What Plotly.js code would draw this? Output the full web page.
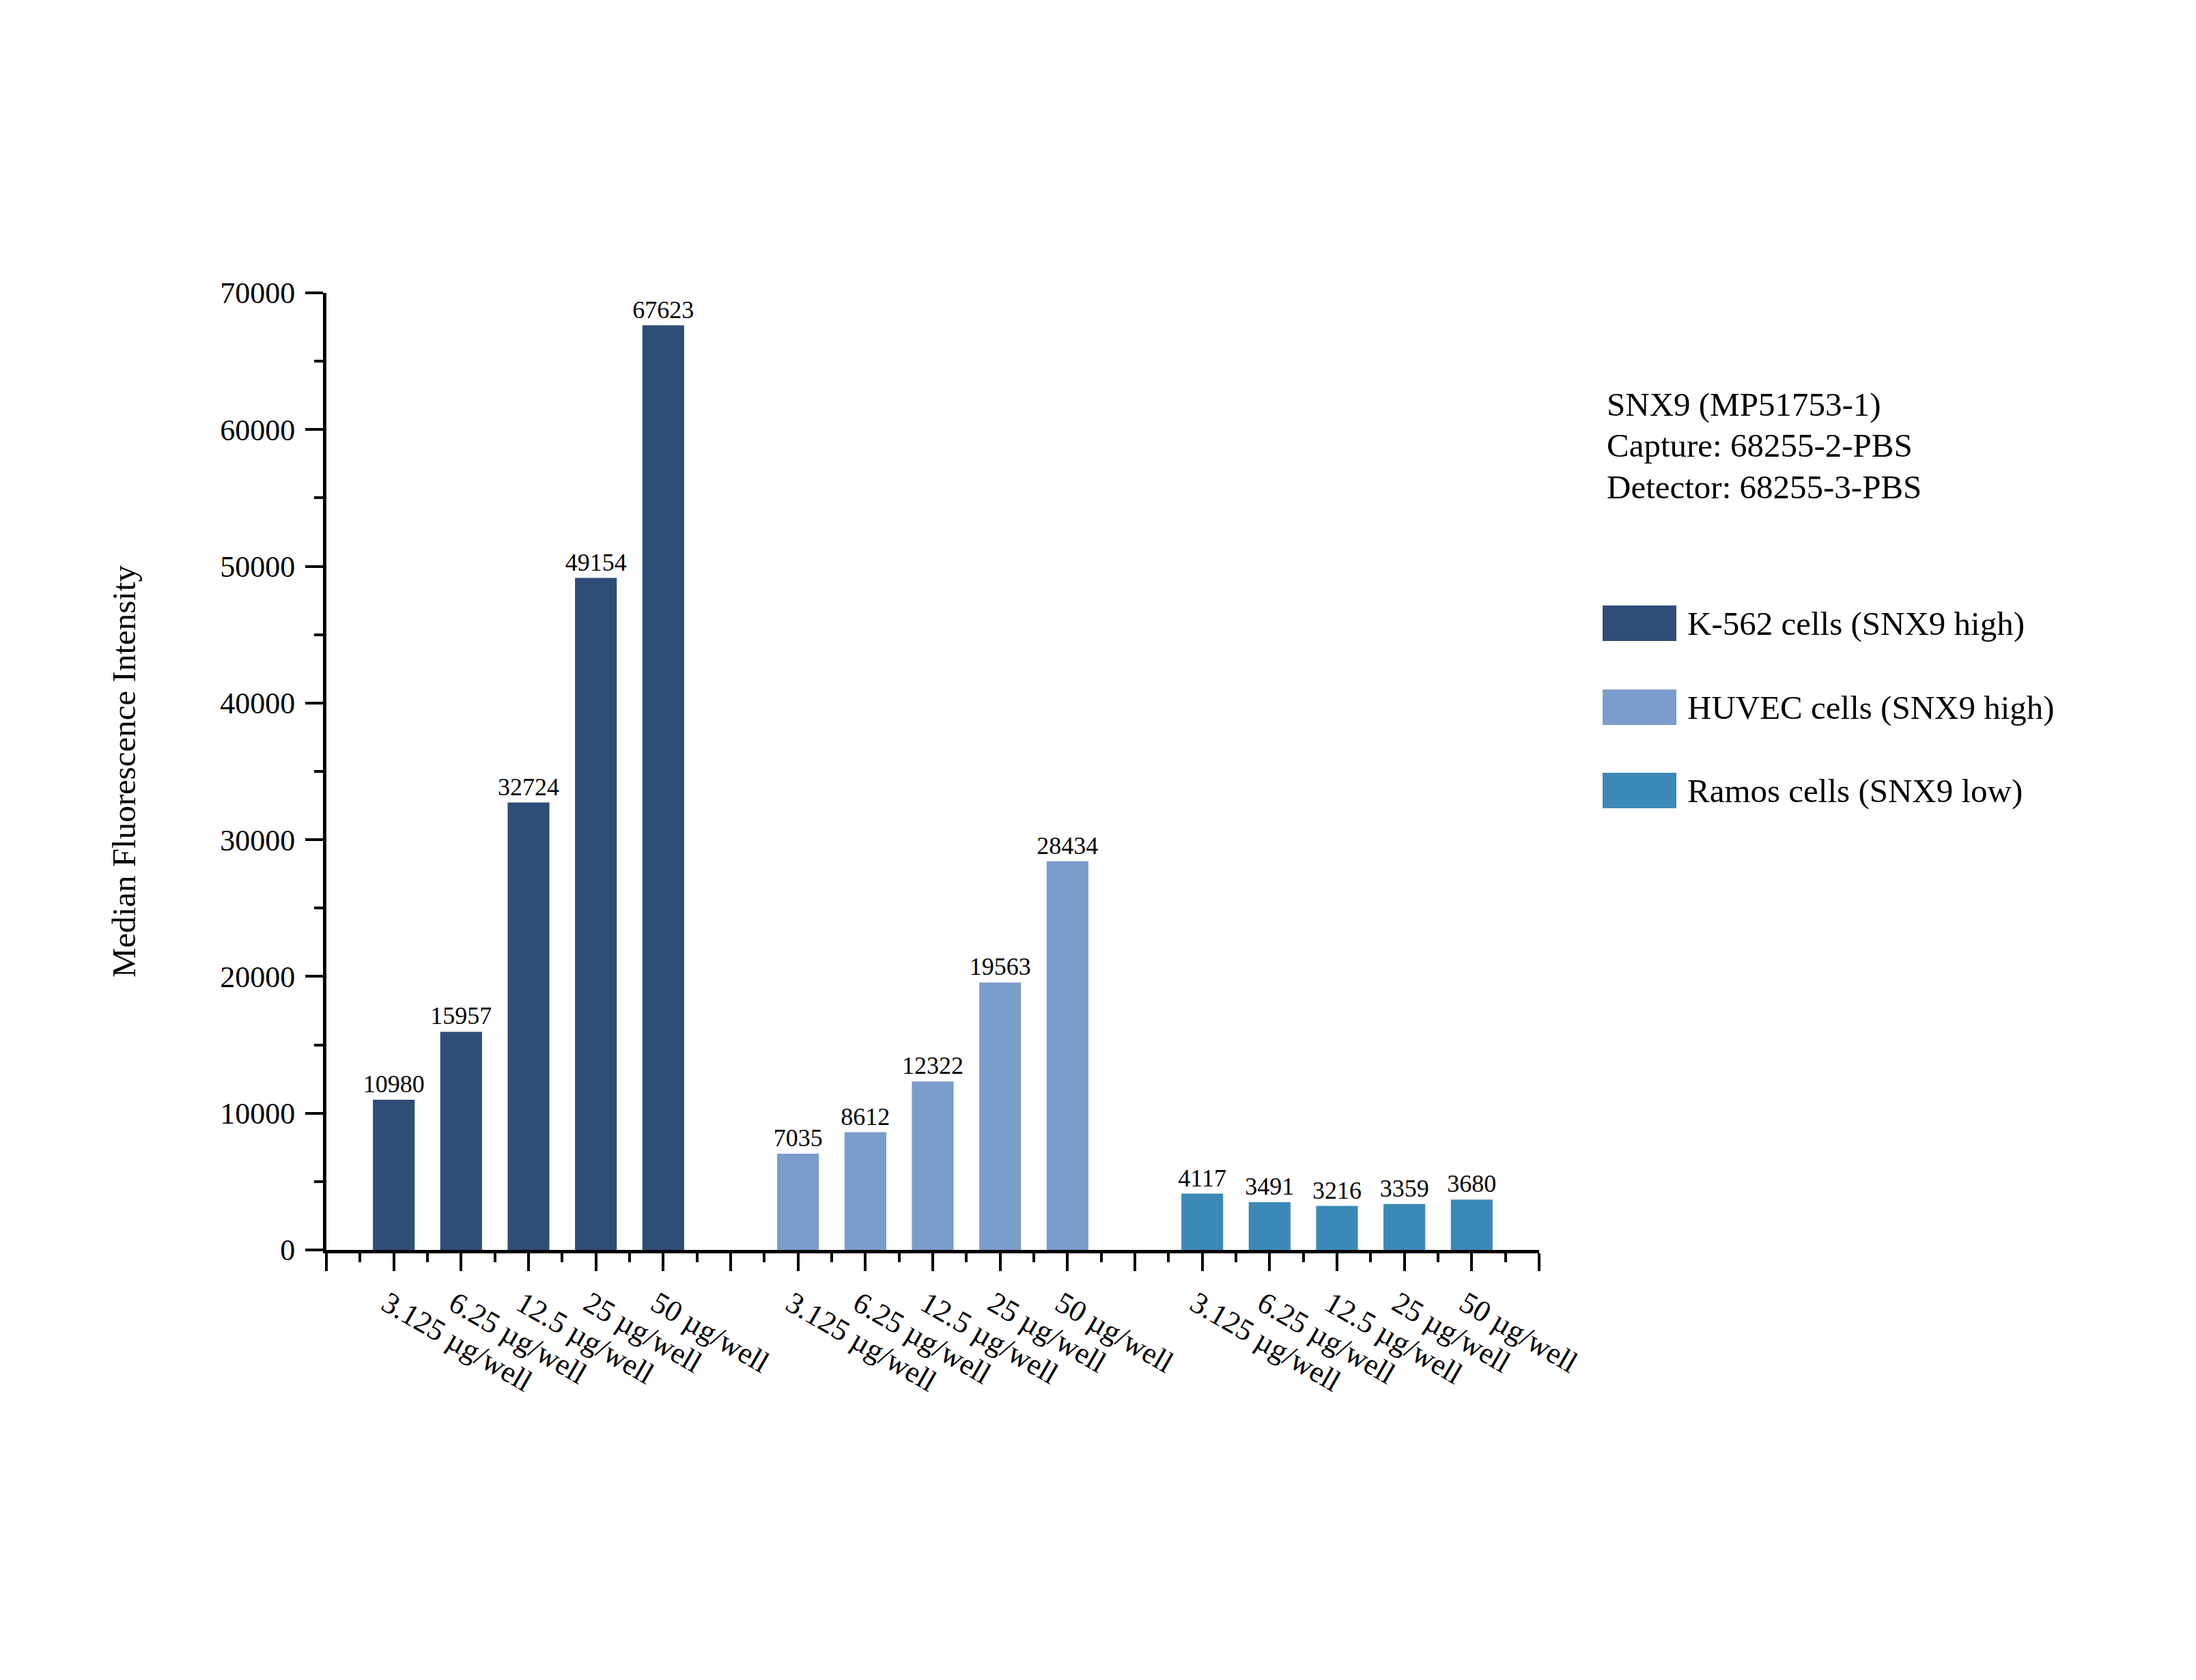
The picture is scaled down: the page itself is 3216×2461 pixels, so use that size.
<!DOCTYPE html>
<html>
<head>
<meta charset="utf-8">
<script src="https://cdn.plot.ly/plotly-3.0.1.min.js"></script>
<style>html,body{margin:0;padding:0;background:#fff;}#chart{width:3216px;height:2461px;}</style>
</head>
<body>
<div id="chart"></div>
<script>
// ---- data ----
const doses = ['3.125 µg/well', '6.25 µg/well', '12.5 µg/well', '25 µg/well', '50 µg/well'];
const seriesNames = ['K-562 cells (SNX9 high)', 'HUVEC cells (SNX9 high)', 'Ramos cells (SNX9 low)'];
const k562Values = [10980, 15957, 32724, 49154, 67623];
const huvecValues = [7035, 8612, 12322, 19563, 28434];
const ramosValues = [4117, 3491, 3216, 3359, 3680];
const seriesColors = ['#2E4E78', '#7B9DCB', '#3C89B8'];
const infoLines = ['SNX9 (MP51753-1)', 'Capture: 68255-2-PBS', 'Detector: 68255-3-PBS'];
const yAxisTitle = 'Median Fluorescence Intensity';

// ---- layout geometry (pixels) ----
const W = 3216, H = 2461;
const L = 478, R = 2254, T = 429, B = 1831;
const px = x => (x - L) / (R - L);
const py = y => (B - y) / (B - T);
const FONT = 'Liberation Serif, Times New Roman, serif';

const allValues = [k562Values, huvecValues, ramosValues];
const slot = doses.length + 1; // one empty slot between groups

const traces = allValues.map((vals, g) => ({
  type: 'bar',
  name: seriesNames[g],
  x: vals.map((v, i) => g * slot + i + 1),
  y: vals,
  width: 0.62,
  marker: { color: seriesColors[g], line: { width: 0 } },
  text: vals.map(v => String(v)),
  textposition: 'outside',
  constraintext: 'none',
  cliponaxis: false,
  outsidetextfont: { family: FONT, size: 36, color: '#000' },
  hoverinfo: 'x+y',
  showlegend: false
}));

// tick positions: every integer slot, labels only under bars
const nSlots = allValues.length * slot;
const tickvals = [];
const ticktext = [];
for (let p = 0; p <= nSlots; p++) {
  tickvals.push(p);
  const r = p % slot;
  ticktext.push(r === 0 ? '' : doses[r - 1]);
}

// manual legend (large swatches) + info text
const shapes = [];
const annotations = [];
const boxY = [913, 1036, 1158];
seriesNames.forEach((name, i) => {
  shapes.push({
    type: 'rect', xref: 'paper', yref: 'paper',
    x0: px(2347), x1: px(2455), y0: py(boxY[i] + 26), y1: py(boxY[i] - 26),
    fillcolor: seriesColors[i], line: { width: 0 }
  });
  annotations.push({
    xref: 'paper', yref: 'paper', x: px(2469), y: py(boxY[i]),
    xanchor: 'left', yanchor: 'middle', showarrow: false,
    text: name, font: { family: FONT, size: 49, color: '#000' }
  });
});
const infoY = [592, 652, 713];
infoLines.forEach((line, i) => {
  annotations.push({
    xref: 'paper', yref: 'paper', x: px(2351), y: py(infoY[i]),
    xanchor: 'left', yanchor: 'middle', align: 'left', showarrow: false,
    text: line, font: { family: FONT, size: 49, color: '#000' }
  });
});

const layout = {
  width: W, height: H,
  paper_bgcolor: '#fff', plot_bgcolor: '#fff',
  font: { family: FONT, color: '#000' },
  margin: { l: L, r: W - R, t: T, b: H - B, pad: 0 },
  barmode: 'overlay',
  showlegend: false,
  xaxis: {
    range: [0, nSlots], showgrid: false, zeroline: false,
    showline: true, linecolor: '#000', linewidth: 5,
    ticks: 'outside', ticklen: 26, tickwidth: 4, tickcolor: '#000',
    tickmode: 'array', tickvals: tickvals, ticktext: ticktext,
    tickangle: 30, tickfont: { family: FONT, size: 44, color: '#000' },
    ticklabelstandoff: 5, ticklabelshift: -10,
    minor: { tickmode: 'linear', tick0: 0.5, dtick: 1, ticks: 'outside', ticklen: 13, tickwidth: 4, tickcolor: '#000', showgrid: false },
    fixedrange: true
  },
  yaxis: {
    range: [0, 70000], showgrid: false, zeroline: false,
    showline: true, linecolor: '#000', linewidth: 5,
    ticks: 'outside', ticklen: 26, tickwidth: 4, tickcolor: '#000',
    tick0: 0, dtick: 10000, tickformat: 'd',
    tickfont: { family: FONT, size: 44, color: '#000' },
    ticklabelstandoff: 6,
    minor: { dtick: 5000, ticks: 'outside', ticklen: 13, tickwidth: 4, tickcolor: '#000', showgrid: false },
    title: { text: yAxisTitle, font: { family: FONT, size: 49, color: '#000' }, standoff: 110 },
    fixedrange: true
  },
  shapes: shapes,
  annotations: annotations
};

Plotly.newPlot('chart', traces, layout, { displayModeBar: false, staticPlot: true });
</script>
</body>
</html>
